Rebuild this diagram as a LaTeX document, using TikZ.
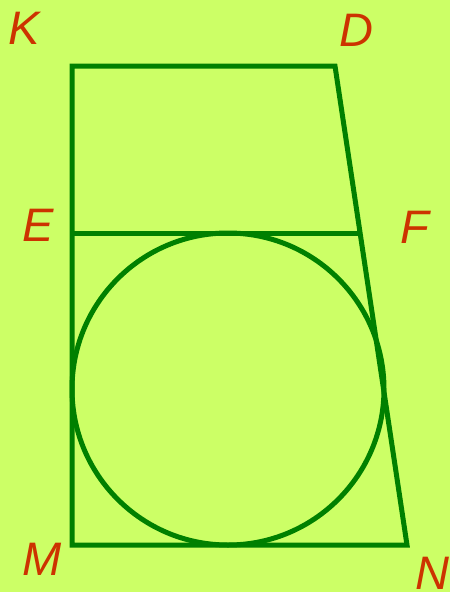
\documentclass[tikz,border=0pt]{standalone}
\usepackage{fontspec}
\setmainfont{Liberation Sans}
\definecolor{bg}{RGB}{204,255,102}
\definecolor{ln}{RGB}{0,128,0}
\definecolor{lab}{RGB}{204,51,0}
\begin{document}
\begin{tikzpicture}[x=1pt,y=-1pt,
  edge/.style={draw=ln,line width=5pt},
  lbl/.style={text=lab,font=\fontsize{47}{50}\selectfont\itshape,anchor=base,inner sep=0pt}]
\fill[bg] (0,0) rectangle (450,592);
\useasboundingbox (0,0) rectangle (450,592);
\coordinate (k) at (72,66);
\coordinate (d) at (335,66);
\coordinate (n) at (407,545);
\coordinate (m) at (72,545);
\coordinate (e) at (72,233);
\coordinate (f) at (360.5,233);
\coordinate (o) at (228,389);
\draw[edge] (m) -- (k) -- (d) -- (n) -- cycle;
\draw[edge] (e) -- (f);
\draw[edge] (o) circle[radius=156];
\node[lbl] (K) at (24,44) {K};
\node[lbl] (D) at (356,46) {D};
\node[lbl] (E) at (38,241) {E};
\node[lbl] (F) at (415,243) {F};
\node[lbl] (M) at (42,575) {M};
\node[lbl] (N) at (432,589) {N};
\end{tikzpicture}
\end{document}
